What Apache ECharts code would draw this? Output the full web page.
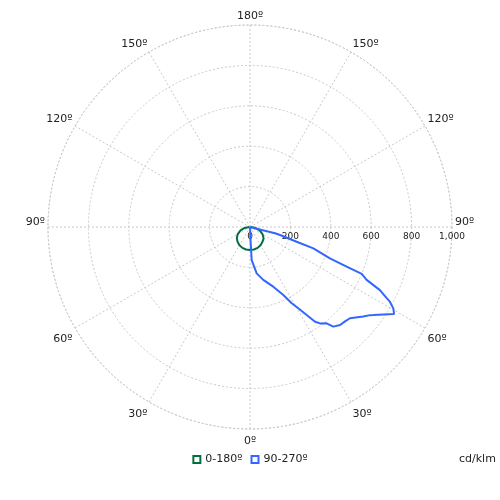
<!DOCTYPE html>
<html>
<head>
<meta charset="utf-8">
<script src="https://cdn.jsdelivr.net/npm/echarts@6/dist/echarts.min.js"></script>
<style>html,body{margin:0;padding:0;background:#fff}#c{width:500px;height:500px}</style>
</head>
<body>
<div id="c"></div>
<script>
// Signed gamma: positive = right half-plane, negative = left half-plane (degrees from nadir)
const seriesNames = ['0-180º', '90-270º'];
const greenGamma = [-90, -80, -70, -60, -50, -40, -30, -20, -10, 0, 10, 20, 30, 40, 50, 60, 70, 80, 90];
const greenCd    = [3, 27, 50, 70, 85, 96, 104, 110, 113, 114, 113, 110, 104, 96, 88, 72, 52, 28, 3];
const blueGamma = [0, 75.6, 75.9, 75.1, 72.5, 71.4, 68.6, 67.7, 67.2, 65.6, 64.1, 62.5, 61.9, 60.4, 58.9,
                   54.5, 53.7, 51.7, 47.6, 45.2, 42.6, 39.9, 38.5, 36.0, 34.5, 32.8, 30.7, 28.7, 26.1, 21.3,
                   14.1, 8.2, 2.9, 2.7, 2.2, 0];
const blueCd    = [0, 60, 128, 154, 242, 331, 425, 517, 600, 634, 715, 763, 785, 816, 833,
                   750, 737, 715, 670, 663, 659, 643, 609, 590, 569, 518, 468, 430, 375, 317,
                   270, 232, 164, 104, 64, 0];
const radiusTicks = [0, 200, 400, 600, 800, 1000];
const angleTickStep = 30;

function toPolar(gammas, cds) {
  return gammas.map((g, i) => [cds[i], 360 + g]);
}
function gammaLabel(v) {
  const g = v <= 180 ? v : Math.abs(v - 360);
  if (g === 90) return '{h|' + g + 'º}';
  if (g < 90) return '{l|' + g + 'º}';
  return g + 'º';
}

const chart = echarts.init(document.getElementById('c'), null, {renderer: 'canvas'});
const font = 'DejaVu Sans';
chart.setOption({
  animation: false,
  textStyle: {fontFamily: font},
  title: {
    text: 'cd/klm', left: 459, top: 454, padding: 0,
    textStyle: {fontFamily: font, fontSize: 11, fontWeight: 'normal', color: '#222'}
  },
  legend: {
    left: 'center', top: 449, icon: 'rect', itemWidth: 7, itemHeight: 7, itemGap: 8,
    textStyle: {fontFamily: font, fontSize: 11, color: '#222'},
    data: [
      {name: seriesNames[0], itemStyle: {color: '#fff', borderColor: '#007040', borderWidth: 2}},
      {name: seriesNames[1], itemStyle: {color: '#fff', borderColor: '#3366ff', borderWidth: 2}}
    ]
  },
  polar: {center: [250, 227], radius: 202},
  angleAxis: {
    type: 'value', min: 90, max: 450, interval: angleTickStep,
    startAngle: 0, clockwise: false,
    axisLine: {show: true, lineStyle: {color: '#c8c8c8', type: [2, 2], width: 1}},
    axisTick: {show: false},
    axisLabel: {margin: 3, fontFamily: font, fontSize: 11, color: '#222', formatter: gammaLabel,
      rich: {
        h: {fontFamily: font, fontSize: 11, color: '#222', padding: [0, 0, 9, 0]},
        l: {fontFamily: font, fontSize: 11, color: '#222', padding: [4, 0, 0, 0]}
      }},
    splitLine: {show: true, lineStyle: {color: '#c8c8c8', type: [2, 2], width: 1}}
  },
  radiusAxis: {
    type: 'value', min: radiusTicks[0], max: radiusTicks[radiusTicks.length - 1],
    interval: radiusTicks[1] - radiusTicks[0],
    axisLine: {show: false}, axisTick: {show: false},
    axisLabel: {margin: -5, verticalAlign: 'top', fontFamily: font, fontSize: 9, color: '#222',
      formatter: v => v.toLocaleString('en-US')},
    splitLine: {show: true, lineStyle: {color: '#c8c8c8', type: [2, 2], width: 1}}
  },
  series: [
    {name: seriesNames[0], type: 'line', coordinateSystem: 'polar', symbol: 'none',
     lineStyle: {color: '#007040', width: 2}, itemStyle: {color: '#007040'},
     data: toPolar(greenGamma, greenCd)},
    {name: seriesNames[1], type: 'line', coordinateSystem: 'polar', symbol: 'none',
     lineStyle: {color: '#3366ff', width: 2}, itemStyle: {color: '#3366ff'},
     data: toPolar(blueGamma, blueCd)}
  ]
});
</script>
</body>
</html>
